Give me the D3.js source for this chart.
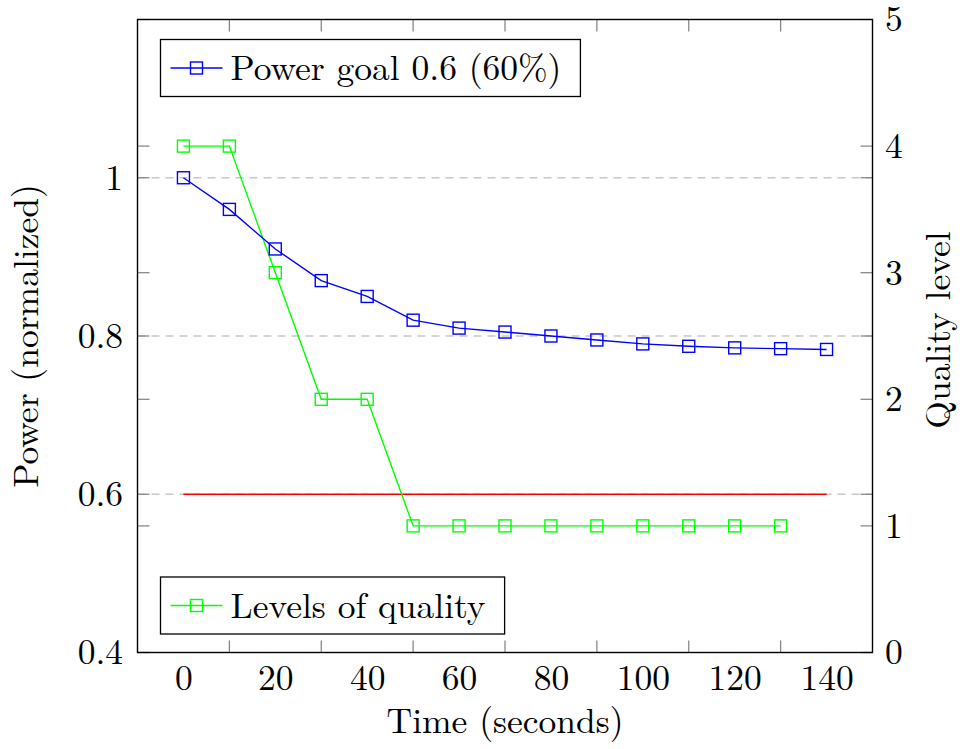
<!DOCTYPE html>
<html>
<head>
<meta charset="utf-8">
<script src="https://cdn.jsdelivr.net/npm/d3@7"></script>
<style>
  body { margin: 0; background: #fff; }
</style>
</head>
<body>
<div id="chart"></div>
<script>
// data
const times = [0, 10, 20, 30, 40, 50, 60, 70, 80, 90, 100, 110, 120, 130, 140];
const power = [1.0, 0.96, 0.91, 0.87, 0.85, 0.82, 0.81, 0.805, 0.80, 0.795, 0.79, 0.787, 0.785, 0.784, 0.783];
const qualityTimes = [0, 10, 20, 30, 40, 50, 60, 70, 80, 90, 100, 110, 120, 130];
const quality = [4, 4, 3, 2, 2, 1, 1, 1, 1, 1, 1, 1, 1, 1];
const powerGoal = 0.6;
const goalRange = [0, 140];

const xTickLabels = [0, 20, 40, 60, 80, 100, 120, 140];
const xTickMarks = [10, 30, 50, 70, 90, 110, 130];
const powerTicks = [0.4, 0.6, 0.8, 1];
const qualityTicks = [0, 1, 2, 3, 4, 5];

const powerLabel = "Power goal 0.6 (60%)";
const qualityLabel = "Levels of quality";

const BLUE = "#0000ff";
const GREEN = "#00ff00";
const RED = "#ff0000";

const W = 962, H = 749;
const margin = { top: 19.5, right: 89.5, bottom: 96.5, left: 137.5 };
const width = W - margin.left - margin.right;
const height = H - margin.top - margin.bottom;
const FONT = 35.5;
const FAMILY = '"Latin Modern Roman", "Liberation Serif", serif';

// make sure the system font is picked up before drawing
const ctx = document.createElement("canvas").getContext("2d");
ctx.font = `${FONT}px ${FAMILY}`;
ctx.measureText(powerLabel + qualityLabel);

const svg = d3.select("#chart").append("svg")
    .attr("width", W)
    .attr("height", H);
const g = svg.append("g")
    .attr("transform", `translate(${margin.left},${margin.top})`);

function font(sel) {
  return sel.style("font-family", FAMILY).style("font-size", FONT + "px").attr("fill", "#000");
}

// scales
const x = d3.scaleLinear().domain([-10, 150]).range([0, width]);
const y = d3.scaleLinear().domain([0.4, 1.2]).range([height, 0]);
const y2 = d3.scaleLinear().domain([0, 5]).range([height, 0]);

// dashed grid on the power axis
g.append("g")
  .selectAll("line")
  .data(powerTicks.filter(d => d > 0.4))
  .enter().append("line")
    .attr("x1", 0).attr("x2", width)
    .attr("y1", d => y(d)).attr("y2", d => y(d))
    .attr("stroke", "#c8c8c8")
    .attr("stroke-width", 1.3)
    .attr("stroke-dasharray", "8,6");

// inner tick marks (mirrored on both sides)
const tickLen = 12;
const ticks = g.append("g").attr("stroke", "#808080").attr("stroke-width", 1.2);
[0, width].forEach(side => {
  const dir = side === 0 ? 1 : -1;
  ticks.selectAll(null)
    .data(qualityTicks)
    .enter().append("line")
      .attr("x1", side).attr("x2", side + dir * tickLen)
      .attr("y1", d => y2(d)).attr("y2", d => y2(d));
  ticks.selectAll(null)
    .data(powerTicks)
    .enter().append("line")
      .attr("x1", side).attr("x2", side + dir * tickLen)
      .attr("y1", d => y(d)).attr("y2", d => y(d));
});
[0, height].forEach(side => {
  const dir = side === 0 ? 1 : -1;
  ticks.selectAll(null)
    .data(xTickMarks)
    .enter().append("line")
      .attr("x1", d => x(d)).attr("x2", d => x(d))
      .attr("y1", side).attr("y2", side + dir * tickLen);
});

// axes: labels only, the frame is drawn separately
const xAxis = g.append("g")
    .attr("transform", `translate(0,${height})`)
    .call(d3.axisBottom(x).tickValues(xTickLabels).tickSize(0).tickPadding(12).tickFormat(d3.format("d")));
const yAxis = g.append("g")
    .call(d3.axisLeft(y).tickValues(powerTicks).tickSize(0).tickPadding(14.5).tickFormat(d => d === 1 ? "1" : d3.format(".1f")(d)));
const yAxis2 = g.append("g")
    .attr("transform", `translate(${width},0)`)
    .call(d3.axisRight(y2).tickValues(qualityTicks).tickSize(0).tickPadding(12.5).tickFormat(d3.format("d")));

[xAxis, yAxis, yAxis2].forEach(a => {
  a.select(".domain").remove();
  font(a.selectAll("text"));
});

// goal line
g.append("line")
    .attr("x1", x(goalRange[0])).attr("x2", x(goalRange[1]))
    .attr("y1", y(powerGoal)).attr("y2", y(powerGoal))
    .attr("stroke", RED)
    .attr("stroke-width", 1.6);

// series
function drawSeries(xs, ys, scale, color) {
  const pts = xs.map((t, i) => [t, ys[i]]);
  g.append("path")
    .datum(pts)
    .attr("fill", "none")
    .attr("stroke", color)
    .attr("stroke-width", 1.4)
    .attr("d", d3.line().x(d => x(d[0])).y(d => scale(d[1])));
  g.append("g")
    .selectAll("rect")
    .data(pts)
    .enter().append("rect")
      .attr("x", d => x(d[0]) - 6)
      .attr("y", d => scale(d[1]) - 6)
      .attr("width", 12)
      .attr("height", 12)
      .attr("fill", "none")
      .attr("stroke", color)
      .attr("stroke-width", 1.4);
}
drawSeries(qualityTimes, quality, y2, GREEN);
drawSeries(times, power, y, BLUE);

// frame
g.append("rect")
    .attr("width", width)
    .attr("height", height)
    .attr("fill", "none")
    .attr("stroke", "#000")
    .attr("stroke-width", 1.4);

// legends
function legend(top, label, color) {
  const lg = g.append("g").attr("transform", `translate(${160.5 - margin.left},${top - margin.top})`);
  const box = lg.append("rect")
      .attr("height", 57)
      .attr("fill", "#fff")
      .attr("stroke", "#000")
      .attr("stroke-width", 1.3);
  lg.append("line")
      .attr("x1", 10).attr("x2", 62)
      .attr("y1", 28.5).attr("y2", 28.5)
      .attr("stroke", color).attr("stroke-width", 1.4);
  lg.append("rect")
      .attr("x", 30).attr("y", 22.5)
      .attr("width", 12).attr("height", 12)
      .attr("fill", "none")
      .attr("stroke", color).attr("stroke-width", 1.4);
  const txt = font(lg.append("text"))
      .attr("x", 70).attr("y", 40.5)
      .text(label);
  box.attr("width", txt.node().getComputedTextLength() + 89);
}
legend(39.5, powerLabel, BLUE);
legend(577, qualityLabel, GREEN);

// axis titles
font(svg.append("text"))
    .attr("x", margin.left + width / 2)
    .attr("y", 733)
    .attr("text-anchor", "middle")
    .text("Time (seconds)");
font(svg.append("text"))
    .attr("transform", `translate(38,${margin.top + height / 2}) rotate(-90)`)
    .attr("text-anchor", "middle")
    .text("Power (normalized)");
font(svg.append("text"))
    .attr("transform", `translate(950,${margin.top + height / 2 - 6}) rotate(-90)`)
    .attr("text-anchor", "middle")
    .text("Quality level");
</script>
</body>
</html>
